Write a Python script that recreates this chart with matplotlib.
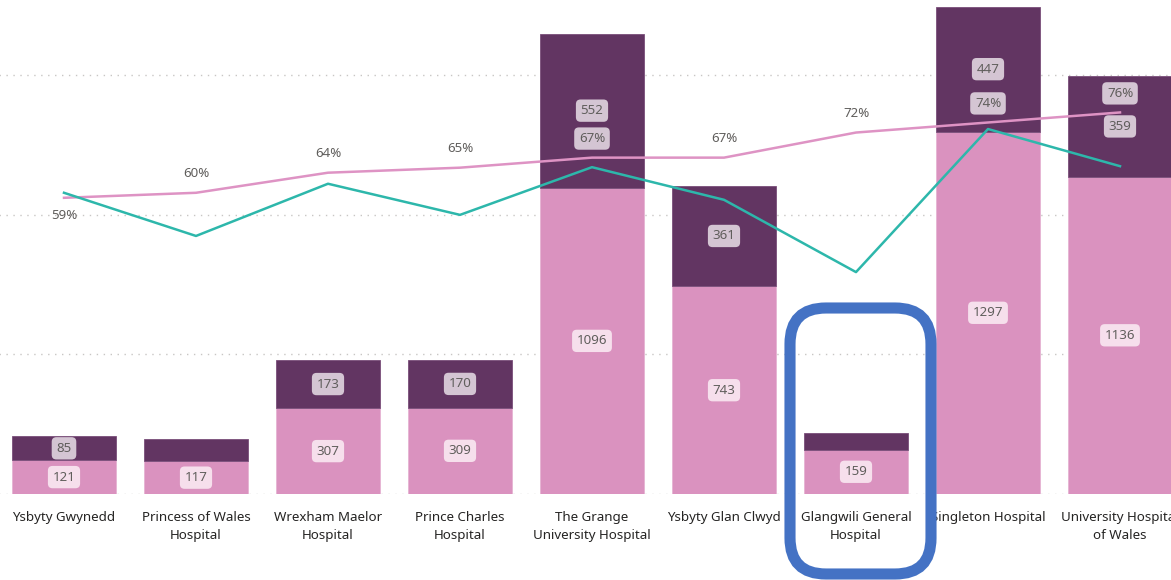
import numpy as np
import matplotlib.pyplot as plt
from matplotlib.patches import FancyBboxPatch
from matplotlib.transforms import IdentityTransform

plt.rcParams['font.family'] = ['Noto Sans', 'DejaVu Sans']

# data
hospitals = ['Ysbyty Gwynedd', 'Princess of Wales\nHospital', 'Wrexham Maelor\nHospital',
             'Prince Charles\nHospital', 'The Grange\nUniversity Hospital', 'Ysbyty Glan Clwyd',
             'Glangwili General\nHospital', 'Singleton Hospital', 'University Hospital\nof Wales']
lower = [121, 117, 307, 309, 1096, 743, 159, 1297, 1136]
upper = [85, 80, 173, 170, 552, 361, 60, 447, 359]
pct_pink = [59, 60, 64, 65, 67, 67, 72, 74, 76]
pct_teal = [60, 51.4, 61.8, 55.6, 65.1, 58.6, 44.2, 72.7, 65.3]

# colours
c_low = '#DA92BF'
c_up = '#623562'
c_line1 = '#DE93C4'
c_line2 = '#2DB7AB'
c_text = '#605E5C'

W, H = 1171, 580
fig = plt.figure(figsize=(W / 100, H / 100), dpi=100)
# axis placed so bar centres land where the original puts them
x0_px, step_px, base_px = 64, 132, 494
left = (x0_px - 0.5 * step_px) / W
width = 9 * step_px / W
bottom = (H - base_px) / H
height = base_px / H
ax = fig.add_axes([left, bottom, width, height])
ax2 = ax.twinx()

ymax1 = 1768
ymax2 = 98.4
x = np.arange(len(hospitals))
lower = np.array(lower)
upper = np.array(upper)

ax.set_axisbelow(True)
ax.yaxis.grid(True, linestyle=(0, (1, 4)), color='#C8C6C4', linewidth=1)
ax.set_yticks([0, 500, 1000, 1500])
ax.bar(x, lower, width=0.785, color=c_low, edgecolor='#E6B3D3', linewidth=0.6, zorder=2)
ax.bar(x, upper, width=0.785, bottom=lower, color=c_up, edgecolor='#7A4E7A', linewidth=0.6, zorder=2)
ax.set_xlim(-0.5, 8.5)
ax.set_ylim(0, ymax1)

fs = 9.6
lbl = dict(ha='center', va='center', fontsize=fs, color=c_text, zorder=5)
for i in range(len(x)):
    ax.text(x[i], lower[i] / 2, str(lower[i]),
            bbox=dict(boxstyle='round,pad=0.35,rounding_size=0.35', fc='#F6DFEC', ec='none'), **lbl)
    if upper[i] >= 82:
        ax.text(x[i], lower[i] + upper[i] / 2, str(upper[i]),
                bbox=dict(boxstyle='round,pad=0.35,rounding_size=0.35', fc='#D4C5D3', ec='none'), **lbl)

ax2.plot(x, pct_pink, color=c_line1, linewidth=1.8, zorder=3)
ax2.plot(x, pct_teal, color=c_line2, linewidth=1.8, zorder=3)
ax2.set_ylim(0, ymax2)
for i, p in enumerate(pct_pink):
    off = -3.6 if i == 0 else 3.8
    ly = p + off
    inside = (lower[i] + upper[i]) / ymax1 > ly / ymax2
    kw = dict(ha='center', va='center', fontsize=fs, color=c_text)
    if inside:
        kw['bbox'] = dict(boxstyle='round,pad=0.35,rounding_size=0.35', fc='#D4C5D3', ec='none')
    ax2.text(x[i], ly, f'{p}%', **kw)

ax.set_xticks(x)
ax.set_xticklabels(hospitals, fontsize=fs, color='#252423', linespacing=1.5)
ax.tick_params(axis='x', length=0, pad=12)
ax.tick_params(axis='y', length=0, labelleft=False)
ax2.tick_params(axis='y', length=0, labelright=False)
for a in (ax, ax2):
    for s in a.spines.values():
        s.set_visible(False)

# highlight box round Glangwili (pixel coords, origin bottom-left)
hl = FancyBboxPatch((790, H - 574), 141, 266,
                    boxstyle='round,pad=0,rounding_size=36',
                    fill=False, ec='#4472C4', lw=8, transform=IdentityTransform(),
                    figure=fig, zorder=10)
fig.patches.append(hl)

fig.savefig('out.png', dpi=100)
